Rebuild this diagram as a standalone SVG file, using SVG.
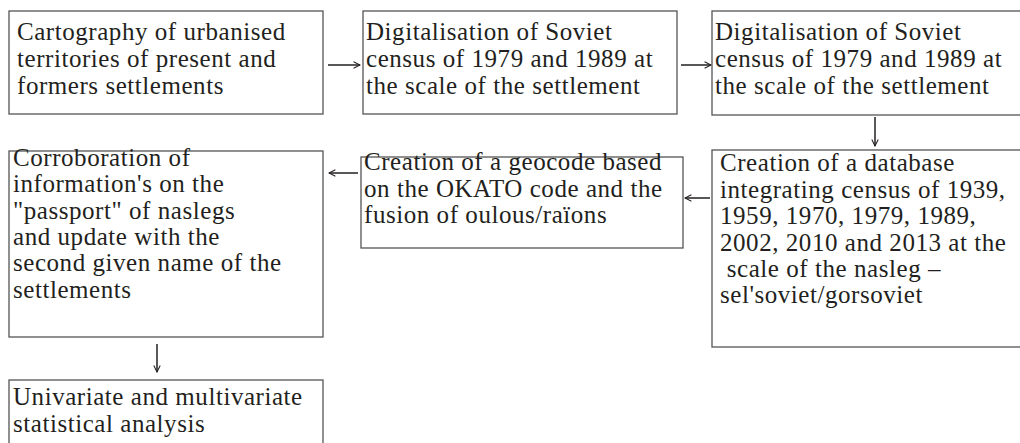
<svg xmlns="http://www.w3.org/2000/svg" width="1020" height="443" viewBox="0 0 1020 443">
<style>
.box{fill:#fff;stroke:#555;stroke-width:1.3}
.t{font-family:"Liberation Serif","DejaVu Serif",serif;font-size:25px;letter-spacing:0.55px;fill:#231f20}
.c{stroke:#231f20;stroke-width:1.5;fill:none;marker-end:url(#ah)}
</style>
<defs>
<marker id="ah" viewBox="0 0 10 10" refX="9" refY="5" markerWidth="8" markerHeight="8" markerUnits="userSpaceOnUse" orient="auto">
<path d="M1,1 L9,5 L1,9" fill="none" stroke="#231f20" stroke-width="1.3"/>
</marker>
</defs>
<rect width="1020" height="443" fill="#fff"/>
<g id="n1"><rect class="box" x="9" y="11" width="314" height="103"/>
<text class="t" x="17" y="40">Cartography of urbanised</text>
<text class="t" x="17" y="67">territories of present and</text>
<text class="t" x="17" y="94">formers settlements</text></g>
<g id="n2"><rect class="box" x="363" y="11" width="314" height="103"/>
<text class="t" x="366" y="40">Digitalisation of Soviet</text>
<text class="t" x="366" y="67">census of 1979 and 1989 at</text>
<text class="t" x="366" y="94">the scale of the settlement</text></g>
<g id="n3"><rect class="box" x="712" y="11" width="320" height="104"/>
<text class="t" x="715" y="40">Digitalisation of Soviet</text>
<text class="t" x="715" y="67">census of 1979 and 1989 at</text>
<text class="t" x="715" y="94">the scale of the settlement</text></g>
<g id="n4"><rect class="box" x="712" y="150" width="320" height="197"/>
<text class="t" x="720" y="171">Creation of a database</text>
<text class="t" x="720" y="198">integrating census of 1939,</text>
<text class="t" x="720" y="224">1959, 1970, 1979, 1989,</text>
<text class="t" x="720" y="251">2002, 2010 and 2013 at the</text>
<text class="t" x="720" y="277" xml:space="preserve"> scale of the nasleg –</text>
<text class="t" x="720" y="303">sel'soviet/gorsoviet</text></g>
<g id="n5"><rect class="box" x="361" y="157" width="322" height="91"/>
<text class="t" x="364" y="170">Creation of a geocode based</text>
<text class="t" x="364" y="197">on the OKATO code and the</text>
<text class="t" x="364" y="223">fusion of oulous/raïons</text></g>
<g id="n6"><rect class="box" x="9" y="151" width="314" height="186"/>
<text class="t" x="13" y="166">Corroboration of</text>
<text class="t" x="13" y="192">information's on the</text>
<text class="t" x="13" y="219">"passport" of naslegs</text>
<text class="t" x="13" y="245">and update with the</text>
<text class="t" x="13" y="271">second given name of the</text>
<text class="t" x="13" y="298">settlements</text></g>
<g id="n7"><rect class="box" x="9" y="380" width="314" height="80"/>
<text class="t" x="13" y="405">Univariate and multivariate</text>
<text class="t" x="13" y="432">statistical analysis</text></g>
<g id="connectors">
<line class="c" x1="328" y1="65" x2="360" y2="65"/>
<line class="c" x1="681" y1="65" x2="711" y2="65"/>
<line class="c" x1="875" y1="117" x2="875" y2="146"/>
<line class="c" x1="710" y1="198" x2="685" y2="198"/>
<line class="c" x1="358" y1="173" x2="329" y2="173"/>
<line class="c" x1="157" y1="344" x2="157" y2="372"/>
</g>
</svg>
